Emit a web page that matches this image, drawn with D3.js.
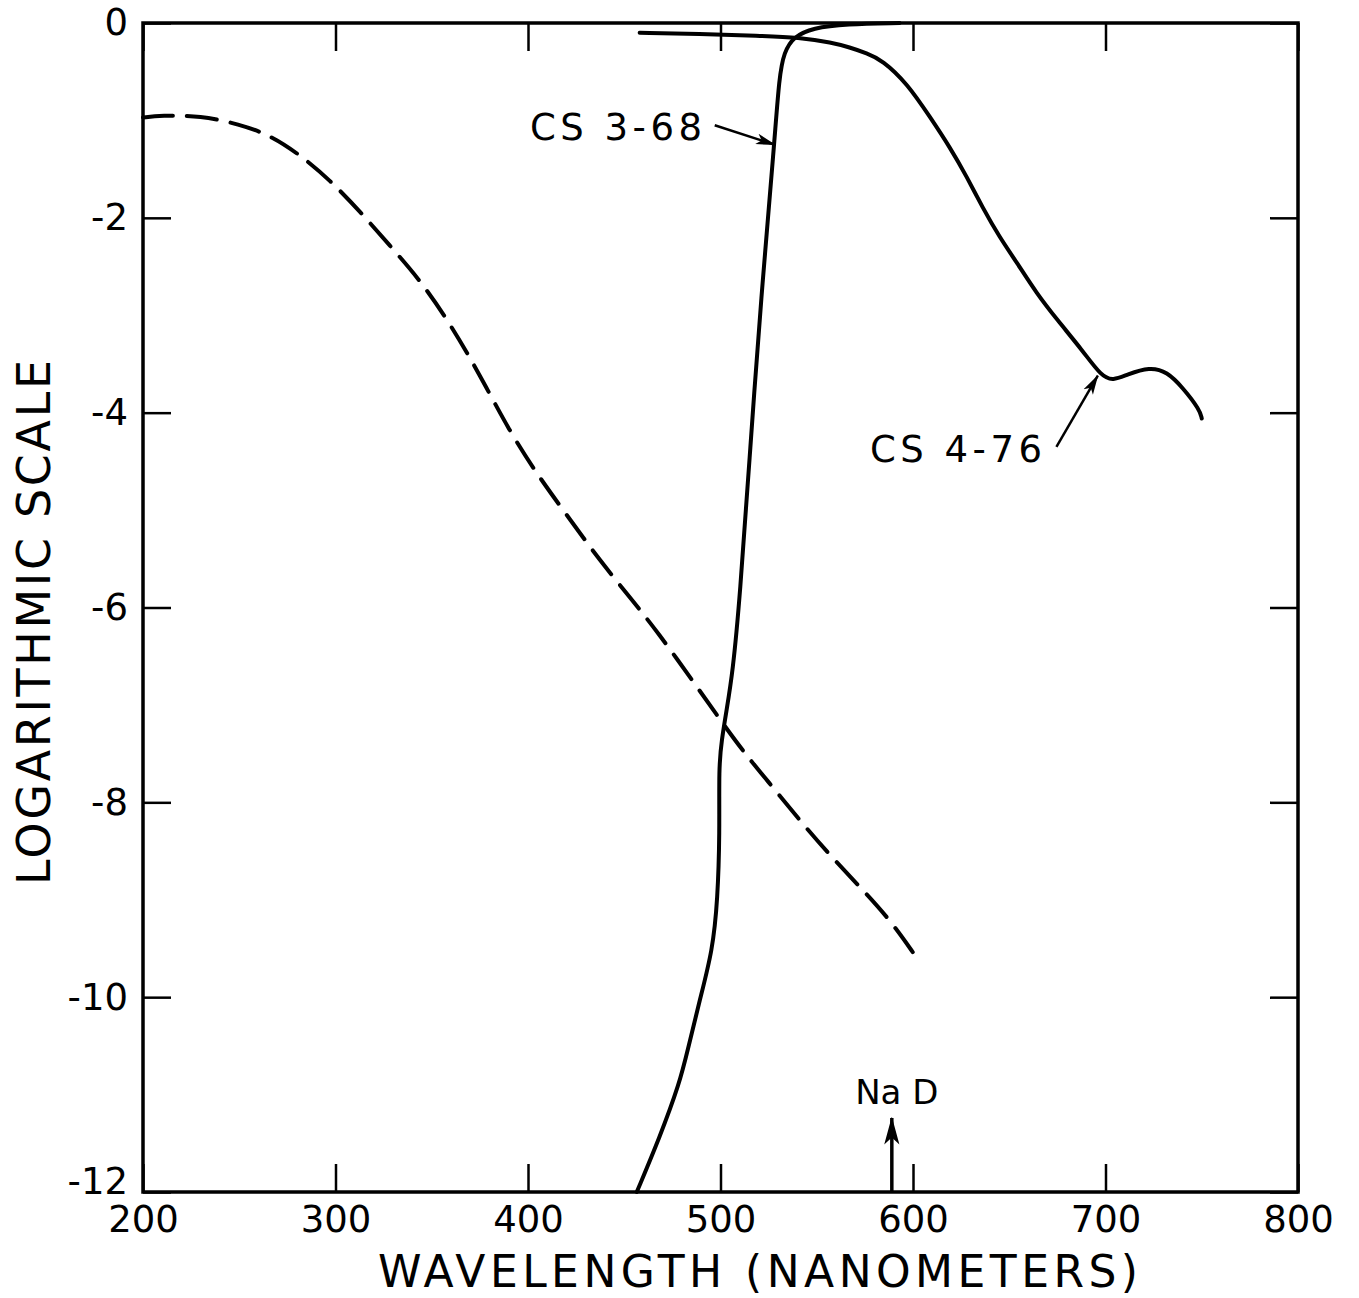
<!DOCTYPE html>
<html>
<head>
<meta charset="utf-8">
<script src="https://cdn.jsdelivr.net/npm/d3@7"></script>
<style>
  body { margin: 0; background: #fff; }
  text { font-family: "DejaVu Sans", sans-serif; fill: #000; }
</style>
</head>
<body>
<div id="chart"></div>
<script>
// Data (wavelength nm, log value)
const dashedWave = [200, 209, 230, 250, 266, 282, 297, 313, 328, 344, 359, 375, 390, 406, 422, 437, 454, 468, 484, 498, 511, 527, 543, 559, 575, 589, 601];
const dashedLog = [-0.97, -0.95, -0.95, -1.04, -1.15, -1.36, -1.61, -1.94, -2.28, -2.64, -3.07, -3.61, -4.18, -4.67, -5.1, -5.51, -5.92, -6.27, -6.71, -7.1, -7.46, -7.84, -8.23, -8.59, -8.92, -9.23, -9.57];

const cs368Wave = [456.5, 468.4, 478.8, 483.0, 489.2, 495.9, 498.5, 499.6, 499.1, 500.6, 503.2, 506.3, 510.0, 515.5, 521.0, 528.0, 530.5, 533.0, 538.0, 548.0, 565, 593];
const cs368Log = [-12, -11.44, -10.88, -10.54, -10.03, -9.52, -9.0, -8.32, -7.64, -7.36, -7.05, -6.67, -5.92, -4.35, -2.84, -1.23, -0.55, -0.3, -0.14, -0.05, -0.01, 0];

const cs476Wave = [458, 489, 520, 541, 558, 567, 576, 584, 597, 609, 619, 628, 636, 645, 654, 664, 675, 688, 698, 704, 711, 723, 732, 740, 749, 750];
const cs476Log = [-0.1, -0.11, -0.13, -0.15, -0.2, -0.25, -0.31, -0.38, -0.62, -0.97, -1.27, -1.58, -1.89, -2.2, -2.46, -2.77, -3.05, -3.36, -3.63, -3.67, -3.61, -3.53, -3.58, -3.74, -3.97, -4.06];

const xTicks = [200, 300, 400, 500, 600, 700, 800];
const yTicks = [0, -2, -4, -6, -8, -10, -12];

// Dimensions
const dimensions = {
  width: 1359,
  height: 1298,
  margins: { top: 23, right: 61, bottom: 106, left: 143 },
};
dimensions.ctrWidth = dimensions.width - dimensions.margins.left - dimensions.margins.right;
dimensions.ctrHeight = dimensions.height - dimensions.margins.top - dimensions.margins.bottom;

const svg = d3
  .select("#chart")
  .append("svg")
  .attr("width", dimensions.width)
  .attr("height", dimensions.height);

const ctr = svg
  .append("g")
  .attr("transform", `translate(${dimensions.margins.left}, ${dimensions.margins.top})`);

// Scales
const xScale = d3.scaleLinear().domain([200, 800]).range([0, dimensions.ctrWidth]);
const yScale = d3.scaleLinear().domain([-12, 0]).range([dimensions.ctrHeight, 0]);

// Arrow marker
svg.append("defs")
  .append("marker")
  .attr("id", "arrow")
  .attr("viewBox", "0 0 10 6")
  .attr("preserveAspectRatio", "none")
  .attr("refX", 9.5)
  .attr("refY", 3)
  .attr("markerWidth", 8)
  .attr("markerHeight", 5)
  .attr("markerUnits", "strokeWidth")
  .attr("orient", "auto")
  .append("path")
  .attr("d", "M0,0.4 L10,3 L0,5.6 L2.5,3 Z")
  .attr("fill", "#000");

// Axes
const tickLen = -28;
const styleAxis = (g) => {
  g.select(".domain").remove();
  g.selectAll(".tick line").attr("stroke", "#000").attr("stroke-width", 2.5);
  g.selectAll(".tick text").style("font-size", "37px").attr("fill", "#000");
};

ctr.append("g")
  .attr("transform", `translate(0, ${dimensions.ctrHeight})`)
  .call(d3.axisBottom(xScale).tickValues(xTicks).tickSize(tickLen).tickPadding(14).tickFormat(d3.format("d")))
  .call(styleAxis);

ctr.append("g")
  .call(d3.axisTop(xScale).tickValues(xTicks).tickSize(tickLen).tickFormat(""))
  .call(styleAxis);

ctr.append("g")
  .call(d3.axisLeft(yScale).tickValues(yTicks).tickSize(tickLen).tickPadding(15).tickFormat((d) => (d === 0 ? "0" : "-" + Math.abs(d))))
  .call(styleAxis)
  .call((g) => g.selectAll(".tick text").filter((d) => d === -12).attr("dy", "0.05em"));

ctr.append("g")
  .attr("transform", `translate(${dimensions.ctrWidth}, 0)`)
  .call(d3.axisRight(yScale).tickValues(yTicks).tickSize(tickLen).tickFormat(""))
  .call(styleAxis);

// Frame
ctr.append("rect")
  .attr("width", dimensions.ctrWidth)
  .attr("height", dimensions.ctrHeight)
  .attr("fill", "none")
  .attr("stroke", "#000")
  .attr("stroke-width", 3.5);

// Curves
const line = d3.line()
  .x((d) => xScale(d[0]))
  .y((d) => yScale(d[1]))
  .curve(d3.curveBasis);

const series = [
  { wave: dashedWave, log: dashedLog, dash: "30,14" },
  { wave: cs368Wave, log: cs368Log, dash: null },
  { wave: cs476Wave, log: cs476Log, dash: null },
];

ctr.selectAll("path.curve")
  .data(series)
  .join("path")
  .attr("class", "curve")
  .attr("d", (s) => line(s.wave.map((w, i) => [w, s.log[i]])))
  .attr("fill", "none")
  .attr("stroke", "#000")
  .attr("stroke-width", 4)
  .attr("stroke-linecap", "round")
  .attr("stroke-dasharray", (s) => s.dash);

// Labels
const annotations = [
  { text: "CS 3-68", tx: 530, ty: 140, from: [497, -1.05], to: [528.3, -1.25] },
  { text: "CS 4-76", tx: 870, ty: 462, from: [674.5, -4.35], to: [696, -3.62] },
];

annotations.forEach((a) => {
  ctr.append("text")
    .attr("x", a.tx - dimensions.margins.left)
    .attr("y", a.ty - dimensions.margins.top)
    .style("font-size", "37px")
    .attr("textLength", 172)
    .attr("lengthAdjust", "spacing")
    .text(a.text);
  ctr.append("line")
    .attr("x1", xScale(a.from[0]))
    .attr("y1", yScale(a.from[1]))
    .attr("x2", xScale(a.to[0]))
    .attr("y2", yScale(a.to[1]))
    .attr("stroke", "#000")
    .attr("stroke-width", 2.5)
    .attr("marker-end", "url(#arrow)");
});

// Na D marker
const naD = 589;
ctr.append("line")
  .attr("x1", xScale(naD))
  .attr("y1", dimensions.ctrHeight)
  .attr("x2", xScale(naD))
  .attr("y2", dimensions.ctrHeight - 74)
  .attr("stroke", "#000")
  .attr("stroke-width", 3.5)
  .attr("marker-end", "url(#arrow)");

ctr.append("text")
  .attr("x", xScale(naD) + 5)
  .attr("y", dimensions.ctrHeight - 88)
  .attr("text-anchor", "middle")
  .style("font-size", "34px")
  .text("Na D");

// Axis titles
svg.append("text")
  .attr("x", 378)
  .attr("y", 1287)
  .style("font-size", "44px")
  .attr("textLength", 760)
  .attr("lengthAdjust", "spacing")
  .text("WAVELENGTH (NANOMETERS)");

svg.append("text")
  .attr("transform", "translate(50, 885) rotate(-90)")
  .style("font-size", "46px")
  .attr("textLength", 525)
  .attr("lengthAdjust", "spacing")
  .text("LOGARITHMIC SCALE");
</script>
</body>
</html>
